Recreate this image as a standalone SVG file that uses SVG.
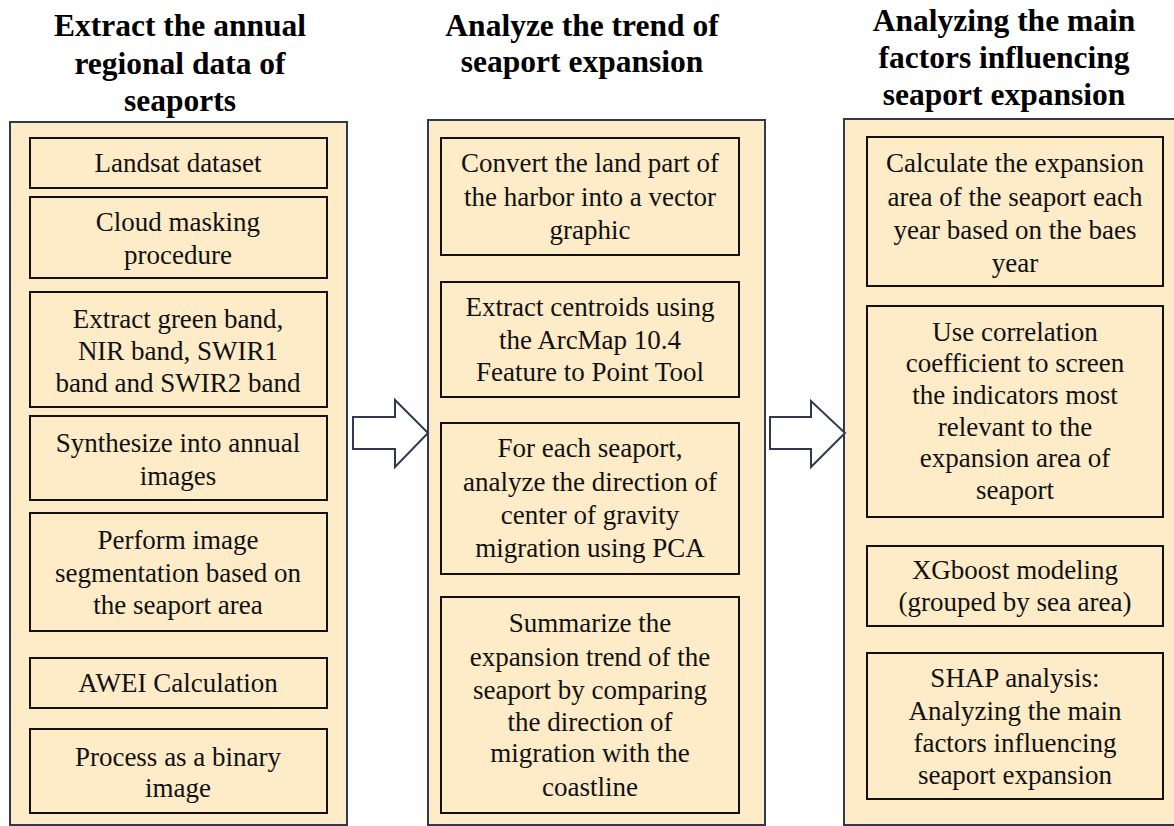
<svg xmlns="http://www.w3.org/2000/svg" width="1174" height="826" viewBox="0 0 1174 826">
<style>
.col{fill:#FEEBC8;stroke:#2F3A4F;stroke-width:2}
.box{fill:#FEEBC8;stroke:#111;stroke-width:2}
.t{font-family:'Liberation Serif','Times New Roman',serif;font-size:27px;fill:#111;text-anchor:middle}
.h{font-family:'Liberation Serif','Times New Roman',serif;font-size:31.5px;font-weight:bold;fill:#000;text-anchor:middle}
.arr{fill:#fff;stroke:#2F3A4F;stroke-width:2;stroke-linejoin:miter}
</style>
<rect width="1174" height="826" fill="#fff"/>
<g id="titles">
<text class="h" x="180" y="36">Extract the annual</text>
<text class="h" x="180" y="74">regional data of</text>
<text class="h" x="180" y="111">seaports</text>
<text class="h" x="582" y="36">Analyze the trend of</text>
<text class="h" x="582" y="72">seaport expansion</text>
<text class="h" x="1004" y="31">Analyzing the main</text>
<text class="h" x="1004" y="68">factors influencing</text>
<text class="h" x="1004" y="105">seaport expansion</text>
</g>
<g id="col1">
<rect class="col" x="10" y="122" width="337" height="703"/>
<g id="n1"><rect class="box" x="30" y="138" width="297" height="50"/><text class="t" x="178" y="172">Landsat dataset</text></g>
<g id="n2"><rect class="box" x="30" y="197" width="297" height="81"/><text class="t" x="178" y="231">Cloud masking</text><text class="t" x="178" y="264">procedure</text></g>
<g id="n3"><rect class="box" x="30" y="292" width="297" height="115"/><text class="t" x="178" y="328">Extract green band,</text><text class="t" x="178" y="360">NIR band, SWIR1</text><text class="t" x="178" y="392">band and SWIR2 band</text></g>
<g id="n4"><rect class="box" x="30" y="416" width="297" height="84"/><text class="t" x="178" y="452">Synthesize into annual</text><text class="t" x="178" y="485">images</text></g>
<g id="n5"><rect class="box" x="30" y="513" width="297" height="118"/><text class="t" x="178" y="549">Perform image</text><text class="t" x="178" y="582">segmentation based on</text><text class="t" x="178" y="614">the seaport area</text></g>
<g id="n6"><rect class="box" x="30" y="658" width="297" height="50"/><text class="t" x="178" y="692">AWEI Calculation</text></g>
<g id="n7"><rect class="box" x="30" y="729" width="297" height="84"/><text class="t" x="178" y="766">Process as a binary</text><text class="t" x="178" y="797">image</text></g>
</g>
<g id="col2">
<rect class="col" x="428" y="120" width="337" height="705"/>
<g id="m1"><rect class="box" x="441" y="138" width="298" height="117"/><text class="t" x="590" y="172">Convert the land part of</text><text class="t" x="590" y="206">the harbor into a vector</text><text class="t" x="590" y="239">graphic</text></g>
<g id="m2"><rect class="box" x="441" y="282" width="298" height="115"/><text class="t" x="590" y="316">Extract centroids using</text><text class="t" x="590" y="349">the ArcMap 10.4</text><text class="t" x="590" y="381">Feature to Point Tool</text></g>
<g id="m3"><rect class="box" x="441" y="423" width="298" height="151"/><text class="t" x="590" y="457">For each seaport,</text><text class="t" x="590" y="491">analyze the direction of</text><text class="t" x="590" y="524">center of gravity</text><text class="t" x="590" y="557">migration using PCA</text></g>
<g id="m4"><rect class="box" x="441" y="597" width="298" height="216"/><text class="t" x="590" y="632">Summarize the</text><text class="t" x="590" y="666">expansion trend of the</text><text class="t" x="590" y="699">seaport by comparing</text><text class="t" x="590" y="731">the direction of</text><text class="t" x="590" y="762">migration with the</text><text class="t" x="590" y="796">coastline</text></g>
</g>
<g id="col3">
<rect class="col" x="844" y="119" width="340" height="706"/>
<g id="k1"><rect class="box" x="867" y="137" width="296" height="149"/><text class="t" x="1015" y="172">Calculate the expansion</text><text class="t" x="1015" y="206">area of the seaport each</text><text class="t" x="1015" y="239">year based on the baes</text><text class="t" x="1015" y="272">year</text></g>
<g id="k2"><rect class="box" x="867" y="306" width="296" height="211"/><text class="t" x="1015" y="341">Use correlation</text><text class="t" x="1015" y="372">coefficient to screen</text><text class="t" x="1015" y="404">the indicators most</text><text class="t" x="1015" y="436">relevant to the</text><text class="t" x="1015" y="467">expansion area of</text><text class="t" x="1015" y="499">seaport</text></g>
<g id="k3"><rect class="box" x="867" y="546" width="296" height="80"/><text class="t" x="1015" y="579">XGboost modeling</text><text class="t" x="1015" y="611">(grouped by sea area)</text></g>
<g id="k4"><rect class="box" x="867" y="653" width="296" height="146"/><text class="t" x="1015" y="687">SHAP analysis:</text><text class="t" x="1015" y="720">Analyzing the main</text><text class="t" x="1015" y="752">factors influencing</text><text class="t" x="1015" y="784">seaport expansion</text></g>
</g>
<g id="connectors">
<polygon class="arr" points="353,417 395,417 395,400 428,433 395,467 395,449 353,449"/>
<polygon class="arr" points="770,417 811,417 811,401 845,433 811,467 811,449 770,449"/>
</g>
</svg>
